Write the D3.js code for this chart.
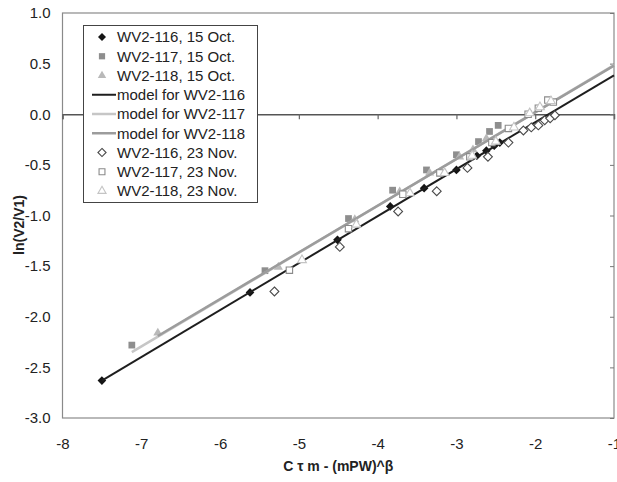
<!DOCTYPE html>
<html><head><meta charset="utf-8">
<script src="https://cdn.jsdelivr.net/npm/d3@7"></script>
<style>body{margin:0;background:#fff}svg{display:block}text{font-family:"Liberation Sans",Arial,sans-serif}</style>
</head><body>
<svg id="c" width="617" height="482"></svg>
<script>
// ---- data ----
const xTicks = [-8,-7,-6,-5,-4,-3,-2,-1];
const yTicks = [1.0,0.5,0.0,-0.5,-1.0,-1.5,-2.0,-2.5,-3.0];

const oct116x = [-7.5,-5.62,-4.51,-3.84,-3.41,-3.0,-2.74,-2.62,-2.52,-2.45];
const oct116y = [-2.63,-1.76,-1.24,-0.91,-0.73,-0.55,-0.41,-0.36,-0.31,-0.28];
const oct117x = [-7.12,-5.43,-4.37,-3.81,-3.38,-3.0,-2.72,-2.58,-2.47];
const oct117y = [-2.28,-1.545,-1.03,-0.75,-0.55,-0.40,-0.27,-0.17,-0.11];
const oct118x = [-6.79,-5.26,-4.29,-3.72,-3.34,-2.96,-2.79,-2.62];
const oct118y = [-2.16,-1.51,-1.04,-0.765,-0.58,-0.42,-0.35,-0.24];

const model116x = [-7.5,-1];
const model116y = [-2.63,0.385];
const model117x = [-7.12,-1];
const model117y = [-2.35,0.485];
const model118x = [-6.79,-1];
const model118y = [-2.19,0.48];

const nov116x = [-5.31,-4.48,-3.74,-3.25,-2.86,-2.60,-2.34,-2.15,-2.05,-1.96,-1.88,-1.81,-1.75];
const nov116y = [-1.75,-1.31,-0.96,-0.76,-0.53,-0.42,-0.28,-0.16,-0.13,-0.11,-0.06,-0.04,-0.01];
const nov117x = [-5.12,-4.37,-3.68,-3.21,-2.83,-2.55,-2.34,-2.09,-1.96,-1.84,-1.77];
const nov117y = [-1.54,-1.13,-0.79,-0.58,-0.42,-0.28,-0.14,0.0,0.06,0.14,0.12];
const nov118x = [-4.96,-4.27,-3.59,-3.15,-2.80,-2.50,-2.27,-2.07,-1.94,-1.80];
const nov118y = [-1.44,-1.09,-0.78,-0.58,-0.41,-0.27,-0.13,0.01,0.07,0.13];

const seriesNames = ["WV2-116, 15 Oct.","WV2-117, 15 Oct.","WV2-118, 15 Oct.",
  "model for WV2-116","model for WV2-117","model for WV2-118",
  "WV2-116, 23 Nov.","WV2-117, 23 Nov.","WV2-118, 23 Nov."];
const xTitle = "C \u03c4 m - (mPW)^\u03b2";
const yTitle = "ln(V2/V1)";

// ---- build ----
const zip = (xs,ys)=>xs.map((x,i)=>({x, y:ys[i]}));
const series = [
  {name:seriesNames[0], type:"pt", shape:d3.symbolDiamond2, fill:"#151515", stroke:"none", size:48, data:zip(oct116x,oct116y)},
  {name:seriesNames[1], type:"pt", shape:d3.symbolSquare2, fill:"#8e8e8e", stroke:"none", size:58, data:zip(oct117x,oct117y)},
  {name:seriesNames[2], type:"pt", shape:d3.symbolTriangle2, fill:"#b9b9b9", stroke:"none", size:60, data:zip(oct118x,oct118y)},
  {name:seriesNames[3], type:"ln", color:"#1e1e1e", width:2, data:zip(model116x,model116y)},
  {name:seriesNames[4], type:"ln", color:"#c6c6c6", width:2.5, data:zip(model117x,model117y)},
  {name:seriesNames[5], type:"ln", color:"#9c9c9c", width:2.5, data:zip(model118x,model118y)},
  {name:seriesNames[6], type:"pt", shape:d3.symbolDiamond2, fill:"#fff", stroke:"#4a4a4a", size:50, data:zip(nov116x,nov116y)},
  {name:seriesNames[7], type:"pt", shape:d3.symbolSquare2, fill:"#fff", stroke:"#8a8a8a", size:52, data:zip(nov117x,nov117y)},
  {name:seriesNames[8], type:"pt", shape:d3.symbolTriangle2, fill:"#fff", stroke:"#c4c4c4", size:56, data:zip(nov118x,nov118y)}
];

const svg = d3.select("#c");
const L=62.5, R=614, T=13, B=418;
const x = d3.scaleLinear().domain([-8,-1]).range([L,R]);
const y = d3.scaleLinear().domain([-3,1]).range([B,T]);
const hy = f => (v => f(v).replace("\u2212","-"));

// plot border
svg.append("rect").attr("x",L).attr("y",T).attr("width",R-L).attr("height",B-T)
  .attr("fill","#fff").attr("stroke","#8a8a8a").attr("stroke-width",1.2);

// x axis at y=0 with ticks, labels at bottom
const xAxis = svg.append("g").attr("transform",`translate(0,${y(0)})`)
  .call(d3.axisBottom(x).tickValues(xTicks).tickSize(5).tickFormat(""));
xAxis.select(".domain").attr("stroke","#555").attr("stroke-width",1.3);
xAxis.selectAll(".tick line").attr("stroke","#666").attr("stroke-width",1.2);

const xLab = svg.append("g").attr("transform",`translate(0,${B})`)
  .call(d3.axisBottom(x).tickValues(xTicks).tickSize(0).tickPadding(20).tickFormat(hy(d3.format("d"))));
xLab.select(".domain").remove();
xLab.selectAll("text").attr("font-size",15).attr("fill","#222").style("font-family","Liberation Sans, Arial, sans-serif");

// y axis: ticks on right edge pointing inward, labels on left
const yAxis = svg.append("g").attr("transform",`translate(${R},0)`)
  .call(d3.axisLeft(y).tickValues(yTicks).tickSize(4).tickFormat(""));
yAxis.select(".domain").remove();
yAxis.selectAll(".tick line").attr("stroke","#777");

const yLab = svg.append("g").attr("transform",`translate(${L},0)`)
  .call(d3.axisLeft(y).tickValues(yTicks).tickSize(0).tickPadding(12).tickFormat(hy(d3.format(".1f"))));
yLab.select(".domain").remove();
yLab.selectAll("text").attr("font-size",15).attr("fill","#222").style("font-family","Liberation Sans, Arial, sans-serif");

// series
const line = d3.line().x(d=>x(d.x)).y(d=>y(d.y));
series.forEach(s=>{
  if(s.type==="ln"){
    svg.append("path").datum(s.data).attr("d",line).attr("fill","none")
      .attr("stroke",s.color).attr("stroke-width",s.width);
  } else {
    svg.append("g").selectAll("path").data(s.data).join("path")
      .attr("transform",d=>`translate(${x(d.x)},${y(d.y)})`)
      .attr("d",d3.symbol().type(s.shape).size(s.size))
      .attr("fill",s.fill).attr("stroke",s.stroke).attr("stroke-width",1.1);
  }
});

// legend
const lg = svg.append("g");
lg.append("rect").attr("x",83.5).attr("y",25.5).attr("width",174).attr("height",177)
  .attr("fill","#fff").attr("stroke","#444").attr("stroke-width",1);
const ly = d3.scaleLinear().domain([0,8]).range([37,191]);
series.forEach((s,i)=>{
  const cy = ly(i);
  if(s.type==="ln"){
    lg.append("line").attr("x1",92).attr("x2",116).attr("y1",cy).attr("y2",cy)
      .attr("stroke",s.color).attr("stroke-width",s.width);
  } else {
    lg.append("path").attr("transform",`translate(102,${cy})`)
      .attr("d",d3.symbol().type(s.shape).size(s.size*0.85))
      .attr("fill",s.fill).attr("stroke",s.stroke).attr("stroke-width",1.1);
  }
  lg.append("text").attr("x",117).attr("y",cy).attr("dy","0.36em")
    .attr("font-size",15).attr("fill","#222").text(s.name);
});

// titles
svg.append("text").attr("x",(L+R)/2).attr("y",471).attr("text-anchor","middle")
  .attr("font-size",14).attr("font-weight","bold").attr("fill","#222").text(xTitle);
svg.append("text").attr("transform","translate(24,225) rotate(-90)").attr("text-anchor","middle")
  .attr("font-size",14).attr("font-weight","bold").attr("fill","#222").text(yTitle);
</script>
</body></html>
